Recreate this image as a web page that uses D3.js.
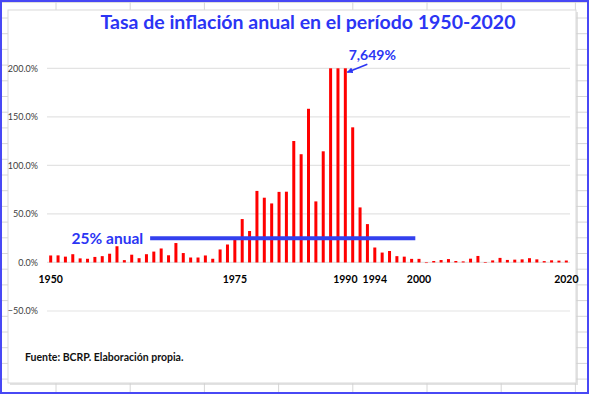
<!DOCTYPE html>
<html>
<head>
<meta charset="utf-8">
<script src="https://cdn.jsdelivr.net/npm/d3@7"></script>
<style>
  html, body { margin: 0; padding: 0; background: #fff; }
  svg { display: block; font-family: Lato, "Open Sans", sans-serif; }
</style>
</head>
<body>
<svg id="chart"></svg>
<script>
// Peru annual inflation (Dec/Dec, %), 1950-2020
const years = d3.range(1950, 2021);
const inflation = [
  7.2, 7.3, 6.0, 8.5, 4.2, 3.8, 5.7, 6.5, 9.0, 16.7,
  2.4, 8.0, 4.4, 8.5, 11.2, 14.4, 7.4, 20.0, 9.7, 5.1,
  5.1, 7.2, 3.8, 13.4, 18.5, 23.6, 44.7, 32.4, 73.7, 66.7,
  60.8, 72.7, 72.9, 125.1, 111.5, 158.3, 62.9, 114.5, 1722.3, 2775.3,
  7649.7, 139.2, 56.7, 39.5, 15.4, 10.2, 11.8, 6.5, 6.0, 3.7,
  3.7, -0.1, 1.5, 2.5, 3.5, 1.5, 1.1, 3.9, 6.7, 0.2,
  2.1, 4.7, 2.6, 2.9, 3.2, 4.4, 3.2, 1.4, 2.2, 1.9,
  2.0
];
const yearLabels = [1950, 1975, 1990, 1994, 2000, 2020];
const yTicks = [-50, 0, 50, 100, 150, 200];
const refValue = 25;
const refYears = [1964, 1999];
const peakYear = 1990;
const peakLabel = "7,649%";

const width = 589, height = 394;
const blue = "#2b35f4";

const svg = d3.select("#chart").attr("width", width).attr("height", height);

// spreadsheet background
const bg = svg.append("g");
bg.append("rect").attr("width", width).attr("height", height).attr("fill", "#fff");
d3.range(0, 9).forEach(i => {
  bg.append("line").attr("x1", 56 + i * 74.2).attr("x2", 56 + i * 74.2)
    .attr("y1", 0).attr("y2", height).attr("stroke", "#d6d6d6");
});
d3.range(0, 26).forEach(i => {
  bg.append("line").attr("x1", 0).attr("x2", width)
    .attr("y1", 2.3 + i * 15.7).attr("y2", 2.3 + i * 15.7).attr("stroke", "#d6d6d6");
});
bg.append("rect").attr("x", 1).attr("y", 1).attr("width", width - 2).attr("height", height - 2)
  .attr("fill", "none").attr("stroke", "#4848f5").attr("stroke-width", 2);

// chart area
svg.append("rect").attr("x", 10).attr("y", 12).attr("width", 568).attr("height", 373)
  .attr("fill", "#cfcfcf").attr("opacity", 0.6);
svg.append("rect").attr("x", 8).attr("y", 10).attr("width", 568).attr("height", 373)
  .attr("fill", "#fff").attr("stroke", "#d9d9d9");

const x = d3.scaleBand().domain(years).range([47, 570]);
const y = d3.scaleLinear().domain([-50, 200]).range([311, 68.3]).clamp(true);

// gridlines
svg.append("g").selectAll("line").data(yTicks).join("line")
  .attr("x1", 47).attr("x2", 570)
  .attr("y1", d => y(d)).attr("y2", d => y(d))
  .attr("stroke", "#e3e3e3").attr("stroke-width", 1.2);

// y axis labels
const yAxis = d3.axisLeft(y).tickValues(yTicks).tickSize(0).tickPadding(0)
  .tickFormat(d => d3.format(".1f")(d) + "%");
svg.append("g").attr("transform", "translate(38,0)").call(yAxis)
  .call(g => g.select(".domain").remove())
  .call(g => g.selectAll("text").attr("font-family", "Lato, sans-serif")
    .attr("font-size", 9).attr("fill", "#404040"));

// bars
svg.append("g").selectAll("rect").data(years).join("rect")
  .attr("x", d => x(d) + x.bandwidth() / 2 - 1.5)
  .attr("width", 3)
  .attr("y", (d, i) => Math.min(y(inflation[i]), y(0)))
  .attr("height", (d, i) => Math.max(Math.abs(y(0) - y(inflation[i])), 0.6))
  .attr("fill", "#ff0000");

// x labels at the zero line
const xAxis = d3.axisBottom(x).tickValues(yearLabels).tickSize(0).tickPadding(13);
svg.append("g").attr("transform", `translate(0,${y(0)})`).call(xAxis)
  .call(g => g.select(".domain").remove())
  .call(g => g.selectAll("text").attr("font-family", "Lato, sans-serif")
    .attr("font-size", 10.5).attr("font-weight", "bold").attr("fill", "#000"));

// 25% reference line
svg.append("line")
  .attr("x1", x(refYears[0])).attr("x2", x(refYears[1]) + x.bandwidth())
  .attr("y1", y(refValue)).attr("y2", y(refValue))
  .attr("stroke", "#3340ee").attr("stroke-width", 4);
svg.append("text").attr("x", x(refYears[0]) - 7).attr("y", y(refValue) + 5.5)
  .attr("text-anchor", "end").attr("font-size", 15.5).attr("font-weight", "bold")
  .attr("fill", blue).text("25% anual");

// title
svg.append("text").attr("x", 308).attr("y", 29).attr("text-anchor", "middle")
  .attr("font-size", 19.5).attr("font-weight", "bold").attr("fill", blue)
  .text("Tasa de inflación anual en el período 1950-2020");

// peak annotation
const px = x(peakYear) + x.bandwidth() / 2;
svg.append("defs").append("marker").attr("id", "arrow")
  .attr("viewBox", "0 0 10 10").attr("refX", 9).attr("refY", 5)
  .attr("markerWidth", 4).attr("markerHeight", 4).attr("orient", "auto")
  .append("path").attr("d", "M0,0 L10,5 L0,10 z").attr("fill", blue);
svg.append("line").attr("x1", px + 22).attr("y1", y(200) - 4)
  .attr("x2", px + 2).attr("y2", y(200) + 4)
  .attr("stroke", blue).attr("stroke-width", 1.5).attr("marker-end", "url(#arrow)");
svg.append("text").attr("x", px + 27).attr("y", 60).attr("text-anchor", "middle")
  .attr("font-size", 14).attr("font-weight", "bold").attr("fill", blue).text(peakLabel);

// source note
svg.append("text").attr("x", 25).attr("y", 361)
  .attr("font-size", 10.5).attr("font-weight", "bold").attr("fill", "#111")
  .text("Fuente: BCRP. Elaboración propia.");
</script>
</body>
</html>
